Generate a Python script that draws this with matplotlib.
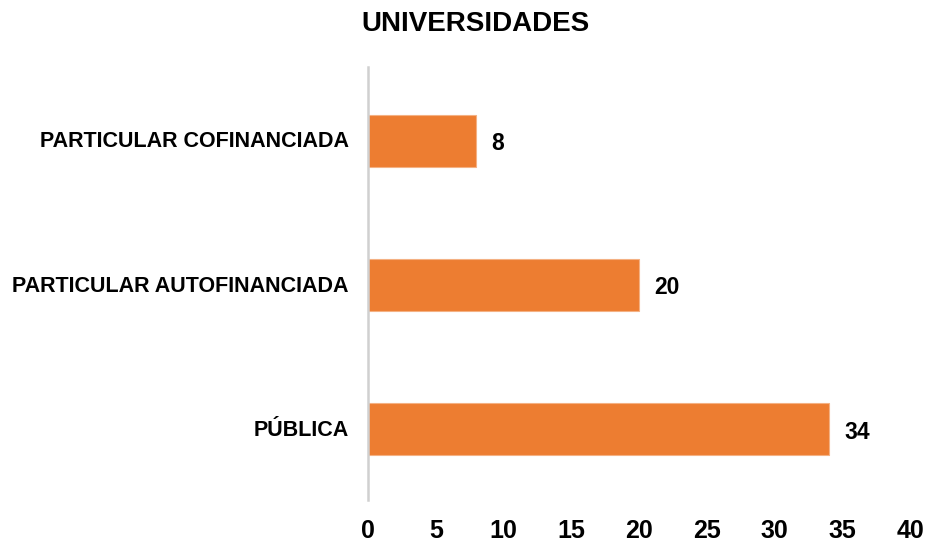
import matplotlib.pyplot as plt
import numpy as np

plt.rcParams['font.family'] = ['Liberation Sans', 'DejaVu Sans']

categorias = ['PÚBLICA', 'PARTICULAR AUTOFINANCIADA', 'PARTICULAR COFINANCIADA']
valores = [34, 20, 8]
xticks = [0, 5, 10, 15, 20, 25, 30, 35, 40]

fig = plt.figure(figsize=(9.3, 5.47), dpi=100)
ax = fig.add_axes([0.3957, 0.0859, 0.5828, 0.7916])

y = np.arange(len(categorias))
bars = ax.barh(y - 0.01, valores, height=0.36, color='#ED7D31', edgecolor='#F4B183', linewidth=0.8)

for b, v in zip(bars, valores):
    ax.annotate(str(v), (b.get_width(), b.get_y() + b.get_height() / 2),
                xytext=(11, -2), textcoords='offset points',
                ha='left', va='center', fontsize=16.5, fontweight='bold')

ax.set_xlim(0, 40)
ax.set_ylim(-0.5, 2.5)
ax.set_xticks(xticks)
ax.set_xticklabels([str(t) for t in xticks], fontsize=18, fontweight='bold')
ax.set_yticks(y)
ax.set_yticklabels(categorias, fontsize=15.5, fontweight='bold')
ax.tick_params(axis='x', length=0, pad=14)
ax.tick_params(axis='y', length=0, pad=14)

for s in ['top', 'right', 'bottom']:
    ax.spines[s].set_visible(False)
ax.spines['left'].set_color('#d0d0d0')
ax.spines['left'].set_linewidth(1.8)

fig.text(0.511, 0.956, 'UNIVERSIDADES', ha='center', va='center',
         fontsize=20, fontweight='bold')

fig.savefig('out.png', dpi=100)
